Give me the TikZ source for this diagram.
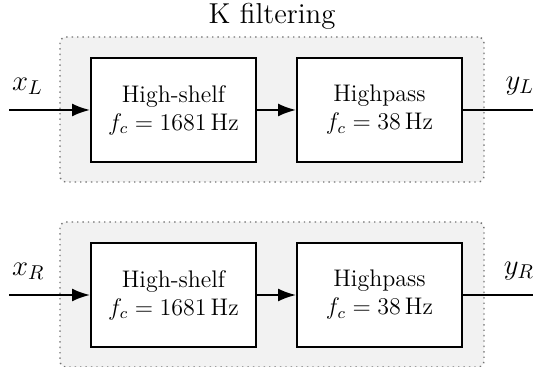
\documentclass[tikz,border=0pt]{standalone}
\usetikzlibrary{positioning,arrows.meta,calc,fit,backgrounds}

\begin{document}
\begin{tikzpicture}[font=\large, >={Latex[length=9pt,width=6.5pt]},
    blk/.style={draw, line width=1pt, fill=white, minimum width=82.5pt, minimum height=52pt, align=center, inner sep=2pt},
    grp/.style={draw=black!55, dotted, line width=0.7pt, fill=black!5, rounded corners=3pt, inner sep=0pt},
    sig/.style={line width=1pt},
    lbl/.style={font=\Large}]
  \useasboundingbox (0,0) rectangle (266.5pt,-183.5pt);
  % left channel
  \node[blk] (hsL) at (86.75pt,-55pt) {High-shelf\\ $f_c = 1681\,\mathrm{Hz}$};
  \node[blk, right=19.5pt of hsL] (hpL) {Highpass\\ $f_c = 38\,\mathrm{Hz}$};
  % right channel
  \node[blk, below=39.5pt of hsL] (hsR) {High-shelf\\ $f_c = 1681\,\mathrm{Hz}$};
  \node[blk, right=19.5pt of hsR] (hpR) {Highpass\\ $f_c = 38\,\mathrm{Hz}$};
  \begin{scope}[on background layer]
    \node[grp, fit={($(hsL.north west)+(-15pt,10pt)$) ($(hpL.south east)+(10.5pt,-9.5pt)$)}] (grpL) {};
    \node[grp, fit={($(hsR.north west)+(-15pt,10pt)$) ($(hpR.south east)+(10.5pt,-9.5pt)$)}] (grpR) {};
  \end{scope}
  \node[lbl, above=0pt of grpL] (title) {K filtering};
  % signals
  \coordinate[left=40.5pt of hsL] (inL);
  \coordinate[right=37pt of hpL] (outL);
  \coordinate[left=40.5pt of hsR] (inR);
  \coordinate[right=37pt of hpR] (outR);
  \draw[sig,->] (inL) -- (hsL);
  \draw[sig,->] (hsL) -- (hpL);
  \draw[sig] (hpL) -- (outL);
  \draw[sig,->] (inR) -- (hsR);
  \draw[sig,->] (hsR) -- (hpR);
  \draw[sig] (hpR) -- (outR);
  \node[lbl, above right=4pt and -2pt of inL] (xL) {$x_L$};
  \node[lbl, above left=4pt and -2pt of outL] (yL) {$y_L$};
  \node[lbl, above right=4pt and -2pt of inR] (xR) {$x_R$};
  \node[lbl, above left=4pt and -2pt of outR] (yR) {$y_R$};
\end{tikzpicture}
\end{document}
